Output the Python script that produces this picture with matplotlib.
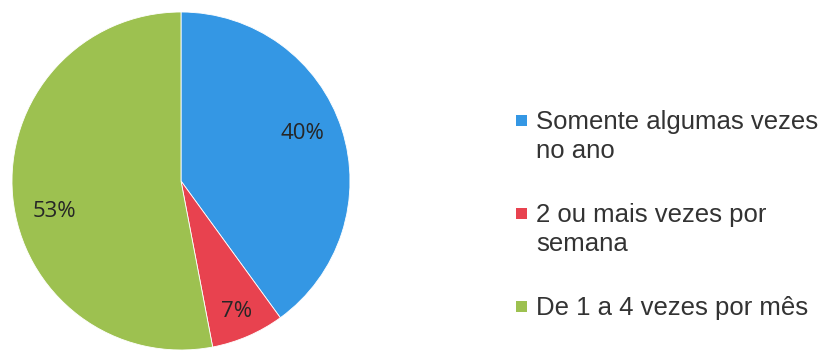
import matplotlib
matplotlib.use("Agg")
import matplotlib.pyplot as plt
from matplotlib.patches import Rectangle

# frequency of visits, share of respondents (%)
categories = [
    "Somente algumas vezes\nno ano",
    "2 ou mais vezes por\nsemana",
    "De 1 a 4 vezes por mês",
]
shares = [40, 7, 53]
colors = ["#3497e4", "#e8424f", "#9dc150"]

# where each percentage label sits, as a fraction of the radius
label_offsets = [(0.716, 0.284), (0.331, -0.775), (-0.751, -0.178)]

W, H = 828, 351
fig = plt.figure(figsize=(W / 100, H / 100), dpi=100)
fig.patch.set_facecolor("white")

# pie of radius 169 px centred at (181, 181) px from the top-left corner
cx, cy, r = 181, 181, 169
ax = fig.add_axes([(cx - r) / W, 1 - (cy + r) / H, 2 * r / W, 2 * r / H])

wedges, _, autotexts = ax.pie(
    shares,
    colors=colors,
    startangle=90,
    counterclock=False,
    autopct=lambda p: f"{p:.0f}%",
    wedgeprops=dict(edgecolor="white", linewidth=0.6),
    textprops=dict(family="Open Sans", fontsize=16, color="#262626"),
)
for t, (dx, dy) in zip(autotexts, label_offsets):
    t.set_position((dx, dy))
ax.set_xlim(-1, 1)
ax.set_ylim(-1, 1)
ax.set_aspect("equal")
ax.axis("off")

# legend drawn by hand so the marker lines up with the first text line
sq = 11
top0, step = 115, 93
for i, (label, color) in enumerate(zip(categories, colors)):
    top = top0 + i * step
    fig.patches.append(Rectangle(
        (516 / W, 1 - (top + sq) / H), sq / W, sq / H,
        transform=fig.transFigure, facecolor=color, edgecolor="none",
    ))
    fig.text(536 / W, 1 - (top - 5) / H, label, transform=fig.transFigure,
             family="Liberation Sans", fontsize=18.5, color="#333333",
             va="top", ha="left", linespacing=1.28)

fig.savefig("out.png", dpi=100, facecolor="white")
